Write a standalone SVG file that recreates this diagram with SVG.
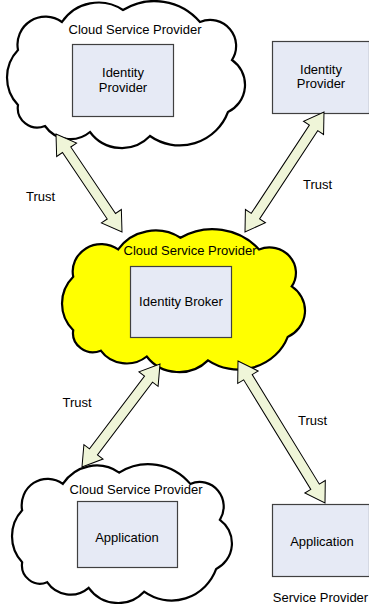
<svg xmlns="http://www.w3.org/2000/svg" width="369" height="604" viewBox="0 0 369 604">
<style>
text{font-family:"Liberation Sans",Arial,sans-serif;font-size:13px;fill:#000;text-anchor:middle}
.cloud{fill:#fff;stroke:#000;stroke-width:2.2}
.yel{fill:#ffff00}
.box{fill:#e6eaf5;stroke:#404040;stroke-width:1.2}
.arr{fill:#eff5d8;stroke:#000;stroke-width:1;stroke-linejoin:miter}
</style>
<defs>
<path id="cl" d="M18,50A28,28 0 0 1 62,22A44,44 0 0 1 123,10A60,60 0 0 1 200,22A26,26 0 0 1 232,60A30.2,30.2 0 0 1 228,112A51.6,51.6 0 0 1 150,136A39.3,39.3 0 0 1 90,132A30.8,30.8 0 0 1 45,126A19.6,19.6 0 0 1 18,105A39.9,39.9 0 0 1 18,50Z" vector-effect="non-scaling-stroke"/>
</defs>
<g id="csp-top">
<use href="#cl" class="cloud"/>
<text x="135" y="33.5">Cloud Service Provider</text>
</g>
<g id="idp-cloud">
<rect class="box" x="72.5" y="44.5" width="101" height="72"/>
<text x="123" y="76.5">Identity</text>
<text x="123" y="91.5">Provider</text>
</g>
<g id="idp-right">
<rect class="box" x="272.5" y="41.5" width="97" height="72"/>
<text x="321" y="73.5">Identity</text>
<text x="321" y="88">Provider</text>
</g>
<g id="csp-broker">
<use href="#cl" class="cloud yel" transform="translate(62,230) scale(1.021,0.973) translate(-7,-2)"/>
<text x="190" y="254.5">Cloud Service Provider</text>
</g>
<g id="broker">
<rect class="box" x="130.5" y="266.5" width="101" height="71"/>
<text x="181" y="305.5">Identity Broker</text>
</g>
<g id="csp-bottom">
<use href="#cl" class="cloud" transform="translate(12,465) scale(0.924,0.945) translate(-7,-2)"/>
<text x="136" y="493.5">Cloud Service Provider</text>
</g>
<g id="app-cloud">
<rect class="box" x="77.5" y="501.5" width="100" height="66"/>
<text x="127" y="541.5">Application</text>
</g>
<g id="app-right">
<rect class="box" x="272.5" y="504.5" width="97" height="72"/>
<text x="322" y="545.5">Application</text>
<text x="320.5" y="602">Service Provider</text>
</g>
<g id="connectors">
<polygon class="arr" transform="translate(56,134) rotate(56.04)" points="0,0 19,-12 19,-5 99.15,-5 99.15,-12 118.15,0 99.15,12 99.15,5 19,5 19,12"/>
<polygon class="arr" transform="translate(324,112) rotate(123.36)" points="0,0 19,-12 19,-5 124.67,-5 124.67,-12 143.67,0 124.67,12 124.67,5 19,5 19,12"/>
<polygon class="arr" transform="translate(160,364) rotate(127.14)" points="0,0 19,-12 19,-5 110.2,-5 110.2,-12 129.2,0 110.2,12 110.2,5 19,5 19,12"/>
<polygon class="arr" transform="translate(238,361) rotate(58.5)" points="0,0 19,-12 19,-5 147.5,-5 147.5,-12 166.5,0 147.5,12 147.5,5 19,5 19,12"/>
<text x="40.5" y="200.5">Trust</text>
<text x="317.5" y="188.5">Trust</text>
<text x="77" y="406.5">Trust</text>
<text x="312.5" y="424.5">Trust</text>
</g>
</svg>
